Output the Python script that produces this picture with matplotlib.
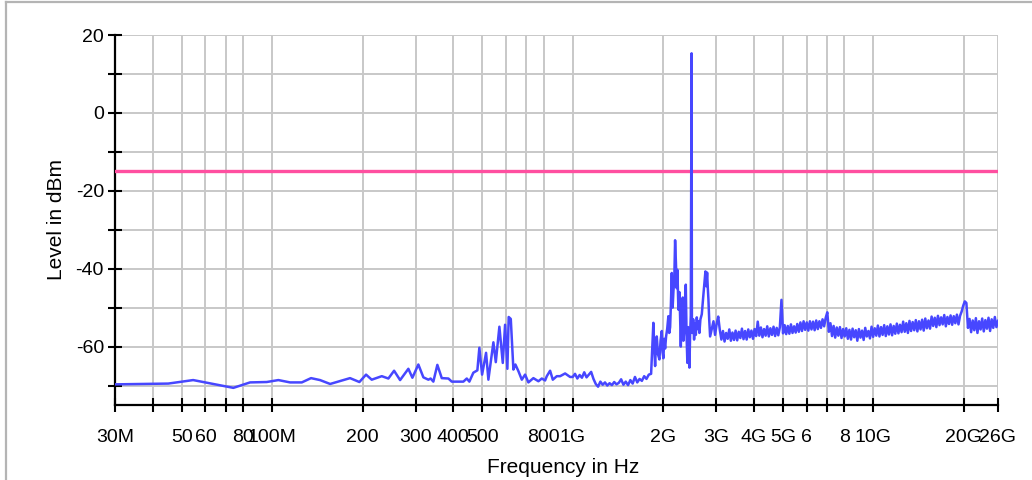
import numpy as np
import matplotlib
matplotlib.use("Agg")
import matplotlib.pyplot as plt
from matplotlib.ticker import FixedLocator, FixedFormatter, NullLocator
from matplotlib.lines import Line2D

# ---------------- data ----------------
# low band (30 MHz .. 1 GHz), explicit sweep points in MHz
low_freq_mhz = [30, 45.1, 54.6, 74.3, 84.4, 95.9, 104.9, 114.7, 125.5, 134.7,
                144.3, 155.9, 181.6, 195.1, 205.3, 214.4, 231.6, 243.6, 254.5, 266.5,
                283.9, 292.8, 306.5, 318.5, 330.9, 336.7, 343.8, 354.5, 366.7, 385.8,
                395.9, 432.7, 444.2, 453.0, 467.1, 481.7, 489.1, 499.4, 514.9, 524.1,
                544.6, 554.7, 570.2, 585.2, 595.6, 606.2, 612.3, 622.2, 634.8, 644.6,
                659.6, 677.0, 694.3, 712.1, 739.8, 768.8, 789.1, 809.3, 819.9, 841.0,
                858.5, 885.3, 908.0, 943.4, 980.2]
low_level_dbm = [-69.7, -69.5, -68.6, -70.6, -69.2, -69.1, -68.6, -69.2, -69.2, -68.1,
                 -68.6, -69.6, -68.1, -69.1, -67.2, -68.5, -67.6, -68.2, -66.2, -68.6,
                 -65.7, -68.0, -64.6, -67.9, -68.5, -68.2, -69.0, -64.7, -68.1, -68.2,
                 -69.0, -69.0, -68.2, -69.0, -66.7, -66.1, -60.3, -67.2, -61.6, -68.5,
                 -58.9, -64.0, -54.9, -64.2, -54.4, -65.7, -52.4, -52.9, -65.9, -64.6,
                 -66.3, -68.5, -67.2, -69.2, -68.1, -68.9, -68.2, -68.7, -67.6, -66.2,
                 -68.5, -67.6, -67.6, -66.9, -67.8]

# 1 GHz .. 1.82 GHz sweep
mid_start_mhz, mid_stop_mhz = 1000, 1823
mid_level_dbm = [-67.8, -67.0, -68.2, -67.3, -68.0, -66.6, -67.9, -67.2, -66.5, -68.3,
                 -69.6, -70.3, -69.0, -69.8, -69.2, -70.0, -69.4, -69.9, -69.1, -69.7,
                 -69.3, -68.4, -69.8, -69.0, -69.9, -68.6, -69.5, -67.8, -69.2, -68.3,
                 -68.8, -67.6, -68.3, -67.2, -67.0]

# 1.85 GHz .. 2.87 GHz burst, explicit points
burst_freq_mhz = [1855, 1868, 1880, 1892, 1904, 1922, 1943, 1960, 1979, 1991,
                  2003, 2016, 2030, 2045, 2062, 2081, 2095, 2109, 2122, 2136,
                  2150, 2163, 2177, 2191, 2205, 2218, 2230, 2247, 2264, 2276,
                  2289, 2305, 2324, 2335, 2347, 2362, 2378, 2392, 2407, 2420,
                  2432, 2445, 2458, 2471, 2486, 2492, 2501, 2517, 2534, 2550,
                  2568, 2587, 2605, 2620, 2639, 2660, 2688, 2705, 2722, 2740,
                  2764, 2782, 2800, 2815, 2828, 2845, 2865]
burst_level_dbm = [-53.9, -60.5, -65.0, -59.0, -57.4, -62.0, -63.3, -58.5, -56.0, -61.5,
                   -63.0, -58.0, -60.5, -57.4, -55.5, -52.2, -56.5, -55.0, -49.0, -41.1,
                   -50.0, -45.8, -43.0, -32.7, -38.5, -45.0, -40.3, -50.5, -46.0, -52.0,
                   -60.0, -50.0, -47.4, -58.5, -56.5, -49.0, -44.1, -57.0, -64.2, -55.0,
                   -61.0, -65.4, -57.0, -52.0, 15.3, -55.0, -56.5, -53.0, -58.2, -54.0,
                   -57.0, -52.5, -55.5, -53.5, -56.5, -53.0, -51.7, -49.0, -46.6, -44.0,
                   -40.7, -44.5, -41.0, -45.0, -47.8, -53.0, -57.4]

# 2.94 GHz .. 26 GHz sweep
hf_start_mhz, hf_stop_mhz = 2940, 26000
hf_level_dbm = [
    -53.5, -57.0, -54.2, -52.3, -55.7, -58.2, -56.0, -58.7, -56.5, -58.0,
    -55.6, -58.5, -56.4, -58.3, -55.9, -58.4, -56.2, -57.8, -55.4, -58.1,
    -56.0, -58.2, -55.6, -57.6, -55.9, -58.0, -55.5, -57.3, -53.6, -57.2,
    -55.1, -57.6, -55.5, -57.2, -54.8, -57.4, -55.3, -57.0, -54.9, -57.3,
    -55.2, -57.1, -55.0, -48.0, -56.6, -54.5, -56.8, -54.7, -56.7, -54.3,
    -56.5, -54.8, -56.4, -54.2, -56.2, -53.8, -56.0, -53.5, -55.7, -53.8,
    -55.9, -53.5, -55.6, -53.6, -55.8, -53.3, -55.5, -53.5, -55.2, -53.0,
    -54.8, -52.6, -51.2, -56.2, -54.0, -57.3, -54.7, -57.7, -55.1, -57.2,
    -55.0, -57.8, -55.5, -57.4, -55.3, -58.0, -55.7, -58.2, -55.4, -57.6,
    -55.8, -58.5, -55.5, -57.7, -55.9, -58.3, -55.2, -57.4, -56.0, -57.9,
    -54.9, -57.5, -55.3, -57.2, -54.6, -57.4, -55.0, -57.0, -54.5, -57.3,
    -54.8, -56.9, -54.3, -57.1, -54.7, -56.7, -54.1, -56.6, -54.4, -56.3,
    -53.6, -56.2, -54.0, -56.5, -53.4, -56.0, -53.7, -55.8, -53.2, -56.1,
    -53.5, -55.6, -53.1, -55.9, -52.8, -55.3, -53.3, -55.4, -52.3, -54.7,
    -52.6, -55.0, -52.1, -54.5, -52.5, -54.3, -51.9, -54.8, -52.4, -54.2,
    -52.0, -54.4, -52.2, -54.0, -51.8, -54.3, -52.1, -51.0, -49.5, -48.4,
    -48.8, -55.2, -52.9, -56.3, -53.3, -55.8, -52.7, -56.5, -53.5, -55.6,
    -52.8, -56.1, -53.2, -55.4, -52.6, -56.0, -53.0, -55.2, -52.4, -55.0, -53.4]

limit_dbm = -15

x_tick_hz = [30e6, 40e6, 50e6, 60e6, 70e6, 80e6, 100e6, 200e6, 300e6, 400e6, 500e6,
             600e6, 700e6, 800e6, 1e9, 2e9, 3e9, 4e9, 5e9, 6e9, 7e9, 8e9, 10e9, 20e9, 26e9]
x_tick_labels = ["30M", "", "50", "60", "", "80", "100M", "200", "300", "400", "500",
                 "", "", "800", "1G", "2G", "3G", "4G", "5G", "6", "", "8", "10G", "20G", "26G"]
y_ticks = [20, 10, 0, -10, -20, -30, -40, -50, -60, -70]
y_tick_labels = ["20", "", "0", "", "-20", "", "-40", "", "-60", ""]

# ---------------- assemble trace ----------------
mid_freq = np.geomspace(mid_start_mhz, mid_stop_mhz, len(mid_level_dbm))
hf_freq = np.geomspace(hf_start_mhz, hf_stop_mhz, len(hf_level_dbm))
freq_hz = np.concatenate([low_freq_mhz, mid_freq, burst_freq_mhz, hf_freq]) * 1e6
level = np.concatenate([low_level_dbm, mid_level_dbm, burst_level_dbm, hf_level_dbm])

# ---------------- plot ----------------
plt.rcParams['font.family'] = ['Liberation Sans', 'DejaVu Sans']
fig = plt.figure(figsize=(10.32, 4.8), dpi=100)
ax = fig.add_axes([115/1032, 1 - 405/480, (998 - 115)/1032, (405 - 35)/480])

ax.set_xscale('log')
ax.set_xlim(30e6, 26e9)
ax.set_ylim(-75, 20)

ax.axhline(limit_dbm, color='#ff4fa0', lw=2.4, zorder=3)
ax.plot(freq_hz, level, color='#4747ff', lw=1.8, zorder=4)

ax.xaxis.set_major_locator(FixedLocator(x_tick_hz))
ax.xaxis.set_major_formatter(FixedFormatter(x_tick_labels))
ax.xaxis.set_minor_locator(NullLocator())
ax.set_yticks(y_ticks)
ax.set_yticklabels(y_tick_labels)

ax.grid(True, color='#c8c8c8', lw=1.4, zorder=0)
ax.set_axisbelow(True)
for s in ['top', 'right']:
    ax.spines[s].set_visible(False)
for s in ['left', 'bottom']:
    ax.spines[s].set_linewidth(1.6)
    ax.spines[s].set_color('black')

ax.tick_params(axis='both', direction='inout', length=10, width=1.5, colors='black',
               labelsize=14)
ax.tick_params(axis='x', pad=12)
ax.tick_params(axis='y', pad=3)

ax.set_xlabel('Frequency in Hz', fontsize=15, labelpad=9)
ax.xaxis.label.set_x(0.508)
ax.set_ylabel('Level in dBm', fontsize=15, labelpad=7)

# panel frame (left and top edges visible)
fig.add_artist(Line2D([6/1032, 6/1032], [0, 1 - 2/480], transform=fig.transFigure,
                      color='#b4b4b4', lw=1.6))
fig.add_artist(Line2D([6/1032, 1], [1 - 2/480, 1 - 2/480], transform=fig.transFigure,
                      color='#b4b4b4', lw=1.6))

fig.savefig('out.png', dpi=100)
